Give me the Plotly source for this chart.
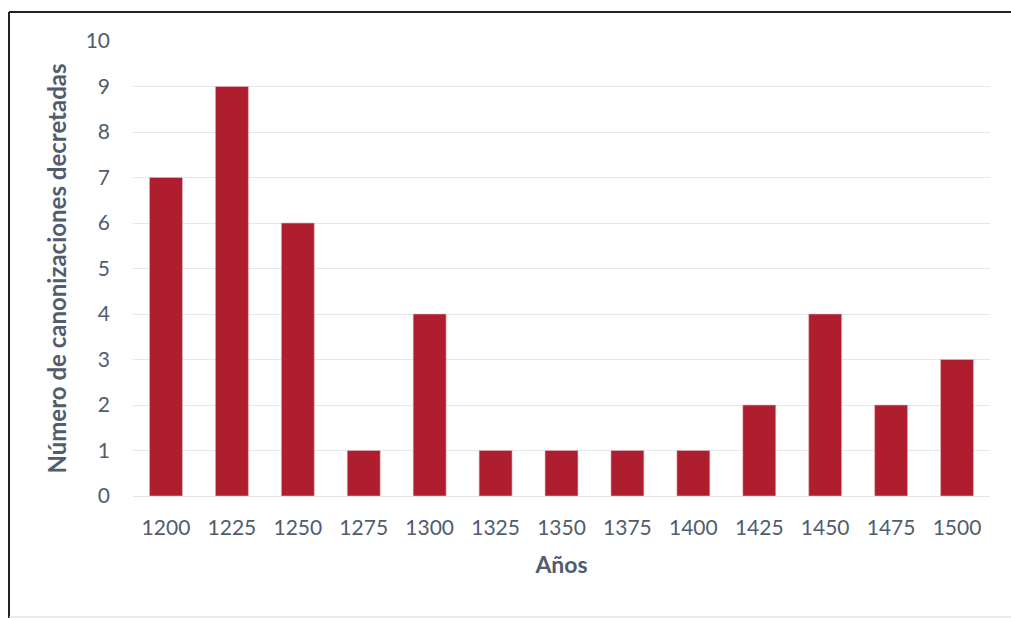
import plotly.graph_objects as go

# Canonizations decreed per 25-year period
anios = ["1200", "1225", "1250", "1275", "1300", "1325", "1350",
         "1375", "1400", "1425", "1450", "1475", "1500"]
canonizaciones = [7, 9, 6, 1, 4, 1, 1, 1, 1, 2, 4, 2, 3]

W, H = 1011, 618
L, R, T, B = 133, 21, 41, 122
pw, ph = W - L - R, H - T - B

def px_x(x):
    return (x - L) / pw

def px_y(y):
    return (H - B - y) / ph

text_color = "#515c6e"
bar_color = "#ae1e2e"

fig = go.Figure(
    go.Bar(
        x=anios,
        y=canonizaciones,
        marker=dict(color=bar_color, line=dict(color="#e9b9bf", width=0.6)),
    )
)

fig.update_layout(
    width=W,
    height=H,
    margin=dict(l=L, r=R, t=T, b=B),
    paper_bgcolor="white",
    plot_bgcolor="white",
    bargap=0.5,
    showlegend=False,
    font=dict(family="Lato", color=text_color, size=21),
    xaxis=dict(
        type="category",
        showgrid=False,
        showline=True,
        linecolor="#dfe3ea",
        linewidth=1,
        tickfont=dict(size=21, color=text_color),
        ticklabelstandoff=13,
        title=dict(text="<b>Años</b>", font=dict(size=23, color=text_color), standoff=18),
    ),
    yaxis=dict(
        range=[0, 10],
        dtick=1,
        showgrid=True,
        gridcolor="#e3e7ee",
        gridwidth=1.2,
        zeroline=False,
        tickfont=dict(size=21, color=text_color),
        ticklabelstandoff=22,
        title=dict(text="<b>Número de canonizaciones decretadas</b>",
                   font=dict(size=24, color=text_color), standoff=12),
    ),
    shapes=[
        # frame: top and left edges dark, bottom edge light
        dict(type="line", xref="paper", yref="paper",
             x0=px_x(9), x1=px_x(1015), y0=px_y(12), y1=px_y(12),
             line=dict(color="#222222", width=2)),
        dict(type="line", xref="paper", yref="paper",
             x0=px_x(9), x1=px_x(9), y0=px_y(12), y1=px_y(620),
             line=dict(color="#222222", width=2)),
        dict(type="line", xref="paper", yref="paper",
             x0=px_x(9), x1=px_x(1015), y0=px_y(617), y1=px_y(617),
             line=dict(color="#d8d8d8", width=1)),
    ],
)

fig.write_html("out.html")
